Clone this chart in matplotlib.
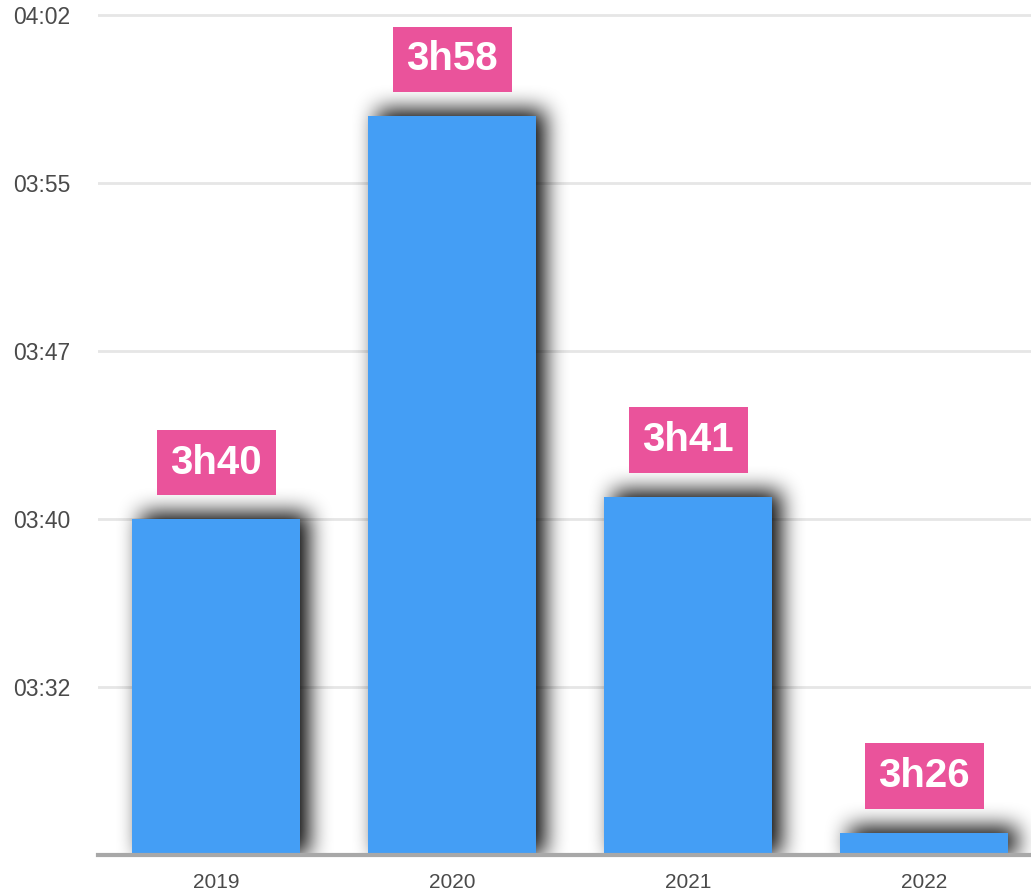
import numpy as np
import matplotlib
matplotlib.use("Agg")
import matplotlib.pyplot as plt

years = ["2019", "2020", "2021", "2022"]
minutes = [220, 238, 221, 206]          # average duration in minutes
bar_labels = ["3h40", "3h58", "3h41", "3h26"]
ytick_vals = [212.5, 220, 227.5, 235, 242.5]
ytick_labels = ["03:32", "03:40", "03:47", "03:55", "04:02"]

plt.rcParams['font.family'] = ['Liberation Sans', 'DejaVu Sans']

W, H, DPI = 1031, 893, 100
YMIN, YMAX = 205, 243.17
fig = plt.figure(figsize=(W / DPI, H / DPI), dpi=DPI, facecolor="white")
ax = fig.add_axes([98 / W, 38 / H, 1 - 98 / W, 1 - 38 / H])

x = np.arange(len(years))
bars = ax.bar(x, minutes, width=0.71, color="#449ef5", zorder=3)
ax.set_xlim(-0.5, 3.453)
ax.set_ylim(YMIN, YMAX)

ax.set_yticks(ytick_vals)
ax.set_yticklabels(ytick_labels)
ax.set_xticks(x)
ax.set_xticklabels(years)
ax.tick_params(axis="y", length=0, pad=20, labelsize=16.5, labelcolor="#4a4a4a")
ax.tick_params(axis="x", length=0, pad=13, labelsize=15, labelcolor="#4a4a4a")
ax.grid(axis="y", color="#e6e6e6", linewidth=2, zorder=0)
for s in ["top", "right", "left"]:
    ax.spines[s].set_visible(False)
ax.spines["bottom"].set_color("#a8a8a8")
ax.spines["bottom"].set_linewidth(3)
ax.spines["bottom"].set_zorder(4)

for xi, v, lab in zip(x, minutes, bar_labels):
    ax.annotate(lab, (xi, v), xytext=(0, 27), textcoords="offset points",
                ha="center", va="bottom", color="white", fontsize=29,
                fontweight="bold", zorder=5,
                bbox=dict(boxstyle="square,pad=0.34", facecolor="#ea539b",
                          edgecolor="none"))


# soft drop shadow behind the bars (drawn above the grid, below the bars)
def box_blur(a, r, axis):
    pad = [(0, 0), (0, 0)]
    pad[axis] = (r + 1, r)
    c = np.cumsum(np.pad(a, pad), axis=axis)
    n = a.shape[axis]
    hi = np.take(c, np.arange(2 * r + 1, 2 * r + 1 + n), axis=axis)
    lo = np.take(c, np.arange(0, n), axis=axis)
    return (hi - lo) / (2 * r + 1)


mask = np.zeros((H, W))
base_px = ax.transData.transform((0, YMIN))[1]
for b in bars:
    (x0, y0), (x1, y1) = ax.transData.transform(
        [(b.get_x(), YMIN), (b.get_x() + b.get_width(), b.get_height())])
    dx, dy = 9, 6
    c0, c1 = int(round(x0 + dx)), int(round(x1 + dx))
    r0, r1 = int(round(max(y0, base_px))), int(round(y1 + dy))
    mask[r0:r1, max(c0, 0):min(c1, W)] = 1.0
for _ in range(3):
    mask = box_blur(mask, 10, 0)
    mask = box_blur(mask, 10, 1)
mask[: int(round(base_px)), :] = 0
shadow = np.zeros((H, W, 4))
shadow[..., 3] = np.clip(mask * 1.0, 0, 1)

inv = ax.transData.inverted()
(fx0, fy0), (fx1, fy1) = inv.transform([(0, 0), (W, H)])
ax.imshow(shadow, extent=(fx0, fx1, fy0, fy1), origin="lower",
          aspect="auto", interpolation="nearest", zorder=2)
ax.set_xlim(-0.5, 3.453)
ax.set_ylim(YMIN, YMAX)

fig.savefig("out.png", dpi=DPI)
